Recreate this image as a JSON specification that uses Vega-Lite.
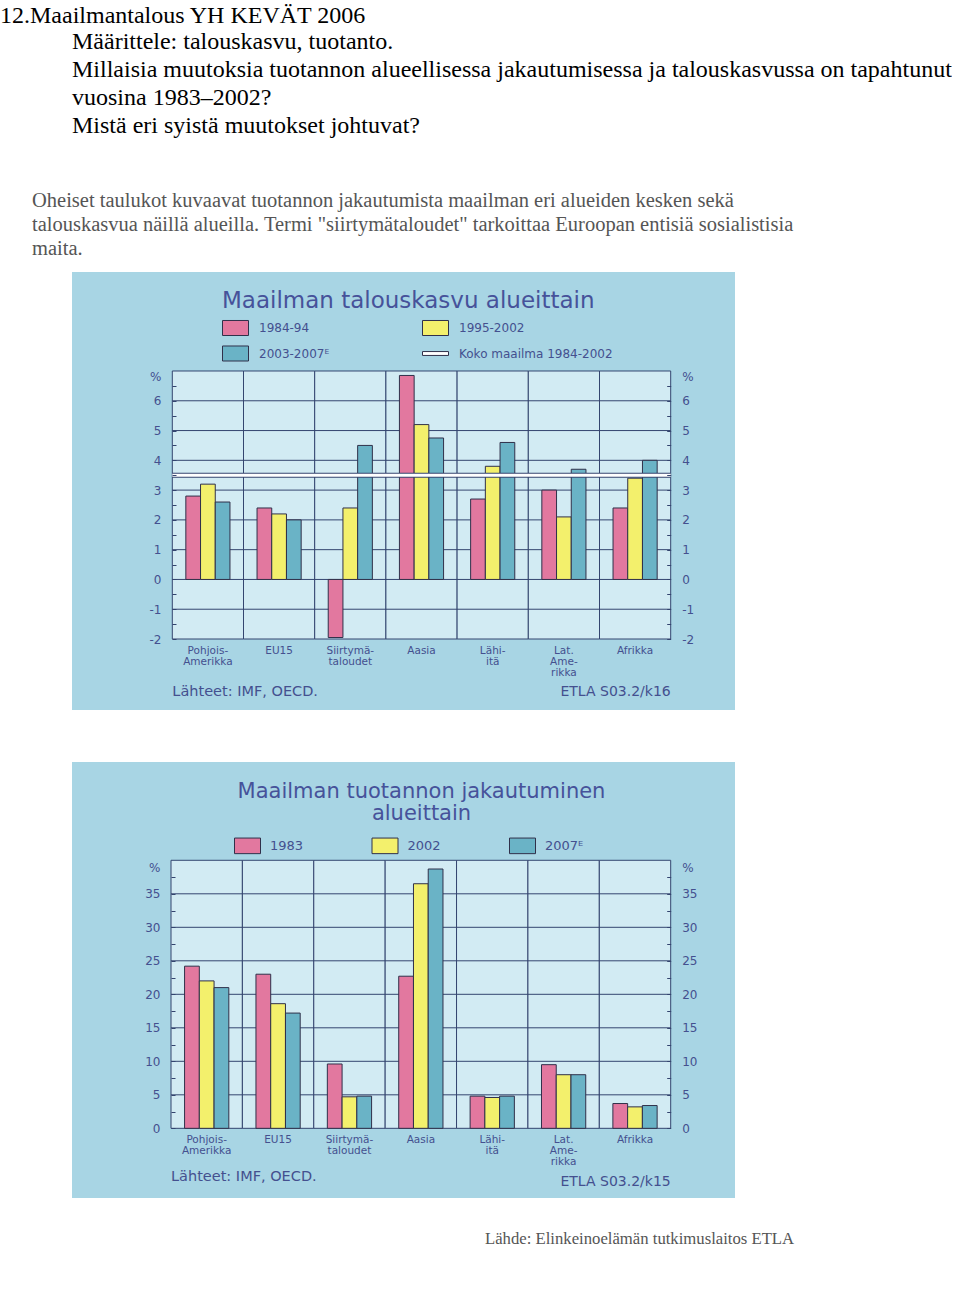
{
  "$schema": "https://vega.github.io/schema/vega-lite/v6.json",
  "background": "white",
  "padding": {"top": 3, "left": 0, "right": 0, "bottom": 0},
  "config": {"view": {"stroke": null}, "font": "DejaVu Sans"},
  "datasets": {
    "growth": [
      {"region": "Pohjois-Amerikka", "period": "1984-94", "value": 2.8},
      {"region": "Pohjois-Amerikka", "period": "1995-2002", "value": 3.2},
      {"region": "Pohjois-Amerikka", "period": "2003-2007ᴱ", "value": 2.6},
      {"region": "EU15", "period": "1984-94", "value": 2.4},
      {"region": "EU15", "period": "1995-2002", "value": 2.2},
      {"region": "EU15", "period": "2003-2007ᴱ", "value": 2.0},
      {"region": "Siirtymätaloudet", "period": "1984-94", "value": -1.95},
      {"region": "Siirtymätaloudet", "period": "1995-2002", "value": 2.4},
      {"region": "Siirtymätaloudet", "period": "2003-2007ᴱ", "value": 4.5},
      {"region": "Aasia", "period": "1984-94", "value": 6.85},
      {"region": "Aasia", "period": "1995-2002", "value": 5.2},
      {"region": "Aasia", "period": "2003-2007ᴱ", "value": 4.75},
      {"region": "Lähi-itä", "period": "1984-94", "value": 2.7},
      {"region": "Lähi-itä", "period": "1995-2002", "value": 3.8},
      {"region": "Lähi-itä", "period": "2003-2007ᴱ", "value": 4.6},
      {"region": "Lat. Amerikka", "period": "1984-94", "value": 3.0},
      {"region": "Lat. Amerikka", "period": "1995-2002", "value": 2.1},
      {"region": "Lat. Amerikka", "period": "2003-2007ᴱ", "value": 3.7},
      {"region": "Afrikka", "period": "1984-94", "value": 2.4},
      {"region": "Afrikka", "period": "1995-2002", "value": 3.4},
      {"region": "Afrikka", "period": "2003-2007ᴱ", "value": 4.0}
    ],
    "world": [{"label": "Koko maailma 1984-2002", "value": 3.5}],
    "share": [
      {"region": "Pohjois-Amerikka", "year": "1983", "value": 24.2},
      {"region": "Pohjois-Amerikka", "year": "2002", "value": 22.0},
      {"region": "Pohjois-Amerikka", "year": "2007ᴱ", "value": 21.0},
      {"region": "EU15", "year": "1983", "value": 23.0},
      {"region": "EU15", "year": "2002", "value": 18.6},
      {"region": "EU15", "year": "2007ᴱ", "value": 17.2},
      {"region": "Siirtymätaloudet", "year": "1983", "value": 9.6},
      {"region": "Siirtymätaloudet", "year": "2002", "value": 4.7},
      {"region": "Siirtymätaloudet", "year": "2007ᴱ", "value": 4.8},
      {"region": "Aasia", "year": "1983", "value": 22.7},
      {"region": "Aasia", "year": "2002", "value": 36.5},
      {"region": "Aasia", "year": "2007ᴱ", "value": 38.7},
      {"region": "Lähi-itä", "year": "1983", "value": 4.8},
      {"region": "Lähi-itä", "year": "2002", "value": 4.6},
      {"region": "Lähi-itä", "year": "2007ᴱ", "value": 4.8},
      {"region": "Lat. Amerikka", "year": "1983", "value": 9.5},
      {"region": "Lat. Amerikka", "year": "2002", "value": 8.0},
      {"region": "Lat. Amerikka", "year": "2007ᴱ", "value": 8.0},
      {"region": "Afrikka", "year": "1983", "value": 3.7},
      {"region": "Afrikka", "year": "2002", "value": 3.2},
      {"region": "Afrikka", "year": "2007ᴱ", "value": 3.4}
    ]
  },
  "title": {"text": "12.Maailmantalous YH KEVÄT 2006", "anchor": "start", "frame": "group", "dx": -72, "offset": 2, "font": "Liberation Serif", "fontSize": 24, "fontWeight": "normal", "color": "#000000"},
  "vconcat": [
    {
      "title": {"text": ["Määrittele: talouskasvu, tuotanto.", "Millaisia muutoksia tuotannon alueellisessa jakautumisessa ja talouskasvussa on tapahtunut", "vuosina 1983–2002?", "Mistä eri syistä muutokset johtuvat?"], "anchor": "start", "frame": "group", "dx": 0, "offset": 53, "font": "Liberation Serif", "fontSize": 24, "lineHeight": 28, "fontWeight": "normal", "color": "#000000"},
      "vconcat": [
        {
          "title": {"text": ["Oheiset taulukot kuvaavat tuotannon jakautumista maailman eri alueiden kesken sekä", "talouskasvua näillä alueilla. Termi \"siirtymätaloudet\" tarkoittaa Euroopan entisiä sosialistisia", "maita."], "anchor": "start", "frame": "group", "dx": -40, "offset": 13, "font": "Liberation Serif", "fontSize": 20.5, "lineHeight": 24, "fontWeight": "normal", "color": "#555555"},
          "vconcat": [
            {
              "title": {"text": "Lähde: Elinkeinoelämän tutkimuslaitos ETLA", "orient": "bottom", "anchor": "start", "frame": "group", "dx": 413, "offset": 33, "font": "Liberation Serif", "fontSize": 16.7, "fontWeight": "normal", "color": "#555555"},
              "spacing": 52,
              "resolve": {"scale": {"x": "independent", "y": "independent", "color": "independent", "xOffset": "independent"}, "axis": {"x": "independent", "y": "independent"}, "legend": {"color": "independent"}},
              "vconcat": [
                {
                  "width": 663,
                  "height": 438,
                  "view": {"fill": "#a8d5e4", "stroke": null},
                  "title": {"text": "Maailman talouskasvu alueittain", "anchor": "start", "frame": "group", "dx": 150, "offset": -41, "font": "DejaVu Sans", "fontSize": 23, "fontWeight": "normal", "color": "#46529a"},
                  "resolve": {"axis": {"y": "independent"}},
                  "layer": [
                    {
                      "data": {"name": "growth"},
                      "transform": [{"aggregate": [{"op": "count", "as": "n"}], "groupby": ["region"]}],
                      "mark": {"type": "rect", "fill": "#d2ebf3", "stroke": "#34456f", "strokeWidth": 1},
                      "encoding": {
                        "x": {"field": "region", "type": "nominal", "sort": null,
                          "scale": {"type": "band", "domain": ["Pohjois-Amerikka", "EU15", "Siirtymätaloudet", "Aasia", "Lähi-itä", "Lat. Amerikka", "Afrikka"], "range": [100.3, 598.7], "paddingInner": 0, "paddingOuter": 0},
                          "axis": null},
                        "y": {"datum": -2, "type": "quantitative",
                          "scale": {"domain": [-4.384, 10.324], "nice": false, "zero": false},
                          "axis": {"orient": "left", "offset": -100, "values": [-2, -1.5, -1, -0.5, 0, 0.5, 1, 1.5, 2, 2.5, 3, 3.5, 4, 4.5, 5, 5.5, 6, 6.5, 6.83], "labelExpr": "datum.value > 6.7 ? '%' : (datum.value % 1 == 0 ? '' + datum.value : '')", "title": null, "domain": false, "grid": false, "ticks": true, "tickSize": -4, "tickColor": "#34456f", "tickOpacity": {"condition": {"test": "datum.value > 6.7", "value": 0}, "value": 1}, "labelFont": "DejaVu Sans", "labelFontSize": 12, "labelColor": "#44508f", "labelPadding": 15, "labelOverlap": false, "labelFlush": false, "labelBound": false, "zindex": 1}},
                        "y2": {"datum": 7}
                      }
                    },
                    {
                      "data": {"values": [{"v": -1}, {"v": 0}, {"v": 1}, {"v": 2}, {"v": 3}, {"v": 4}, {"v": 5}, {"v": 6}]},
                      "mark": {"type": "rule", "stroke": "#34456f", "strokeWidth": 1},
                      "encoding": {
                        "x": {"datum": "Pohjois-Amerikka", "type": "nominal", "bandPosition": 0, "scale": {"type": "band", "domain": ["Pohjois-Amerikka", "EU15", "Siirtymätaloudet", "Aasia", "Lähi-itä", "Lat. Amerikka", "Afrikka"], "range": [100.3, 598.7], "paddingInner": 0, "paddingOuter": 0}, "axis": null},
                        "x2": {"datum": "Afrikka", "bandPosition": 1},
                        "y": {"field": "v", "type": "quantitative", "scale": {"domain": [-4.384, 10.324], "nice": false, "zero": false}, "axis": null}
                      }
                    },
                    {
                      "data": {"name": "growth"},
                      "mark": {"type": "bar", "stroke": "#30304a", "strokeWidth": 1},
                      "encoding": {
                        "x": {"field": "region", "type": "nominal", "sort": null, "scale": {"type": "band", "domain": ["Pohjois-Amerikka", "EU15", "Siirtymätaloudet", "Aasia", "Lähi-itä", "Lat. Amerikka", "Afrikka"], "range": [100.3, 598.7], "paddingInner": 0, "paddingOuter": 0}, "axis": null},
                        "xOffset": {"field": "period", "type": "nominal", "sort": ["1984-94", "1995-2002", "2003-2007ᴱ"], "scale": {"domain": ["1984-94", "1995-2002", "2003-2007ᴱ"], "paddingInner": 0, "paddingOuter": 0.92}},
                        "y": {"field": "value", "type": "quantitative", "scale": {"domain": [-4.384, 10.324], "nice": false, "zero": false}, "axis": null},
                        "y2": {"datum": 0},
                        "color": {"field": "period", "type": "nominal",
                          "scale": {"domain": ["1984-94", "1995-2002", "2003-2007ᴱ", "Koko maailma 1984-2002"], "range": ["#e2789f", "#f3f06c", "#6ab3c6", "#ffffff"]},
                          "legend": {"title": null, "orient": "none", "legendX": 150, "legendY": 42, "direction": "horizontal", "columns": 2, "columnPadding": 90, "rowPadding": 2, "padding": 0, "symbolSize": 676, "symbolType": "M-1,-0.577H1V0.577H-1Z", "symbolStrokeColor": "#30304a", "symbolStrokeWidth": 1, "symbolOpacity": 1, "labelFont": "DejaVu Sans", "labelFontSize": 12, "labelColor": "#44508f", "labelOffset": 10,
                            "encode": {"symbols": {"update": {"shape": {"signal": "datum.value === 'Koko maailma 1984-2002' ? 'M-1,-0.15H1V0.15H-1Z' : 'M-1,-0.577H1V0.577H-1Z'"}}}}}}
                      }
                    },
                    {
                      "data": {"name": "world"},
                      "mark": {"type": "rule", "stroke": "#34456f", "strokeWidth": 5},
                      "encoding": {
                        "x": {"datum": "Pohjois-Amerikka", "type": "nominal", "bandPosition": 0, "scale": {"type": "band", "domain": ["Pohjois-Amerikka", "EU15", "Siirtymätaloudet", "Aasia", "Lähi-itä", "Lat. Amerikka", "Afrikka"], "range": [100.3, 598.7], "paddingInner": 0, "paddingOuter": 0}, "axis": null},
                        "x2": {"datum": "Afrikka", "bandPosition": 1},
                        "y": {"field": "value", "type": "quantitative", "scale": {"domain": [-4.384, 10.324], "nice": false, "zero": false}, "axis": null}
                      }
                    },
                    {
                      "data": {"name": "world"},
                      "mark": {"type": "rule", "stroke": "#ffffff", "strokeWidth": 3},
                      "encoding": {
                        "x": {"datum": "Pohjois-Amerikka", "type": "nominal", "bandPosition": 0, "scale": {"type": "band", "domain": ["Pohjois-Amerikka", "EU15", "Siirtymätaloudet", "Aasia", "Lähi-itä", "Lat. Amerikka", "Afrikka"], "range": [100.3, 598.7], "paddingInner": 0, "paddingOuter": 0}, "axis": null},
                        "x2": {"datum": "Afrikka", "bandPosition": 1},
                        "y": {"field": "value", "type": "quantitative", "scale": {"domain": [-4.384, 10.324], "nice": false, "zero": false}, "axis": null}
                      }
                    },
                    {
                      "data": {"name": "growth"},
                      "transform": [{"aggregate": [{"op": "count", "as": "n"}], "groupby": ["region"]}],
                      "mark": {"type": "text", "align": "center", "baseline": "top", "font": "DejaVu Sans", "fontSize": 10.5, "lineHeight": 11, "color": "#44508f"},
                      "encoding": {
                        "x": {"field": "region", "type": "nominal", "sort": null, "scale": {"type": "band", "domain": ["Pohjois-Amerikka", "EU15", "Siirtymätaloudet", "Aasia", "Lähi-itä", "Lat. Amerikka", "Afrikka"], "range": [100.3, 598.7], "paddingInner": 0, "paddingOuter": 0}, "axis": null},
                        "y": {"datum": -2.22, "type": "quantitative", "scale": {"domain": [-4.384, 10.324], "nice": false, "zero": false}, "axis": null},
                        "text": {"condition": [
                          {"test": "datum.region == 'Pohjois-Amerikka'", "value": ["Pohjois-", "Amerikka"]},
                          {"test": "datum.region == 'Siirtymätaloudet'", "value": ["Siirtymä-", "taloudet"]},
                          {"test": "datum.region == 'Lähi-itä'", "value": ["Lähi-", "itä"]},
                          {"test": "datum.region == 'Lat. Amerikka'", "value": ["Lat.", "Ame-", "rikka"]}
                        ], "field": "region", "type": "nominal"}
                      }
                    },
                    {
                      "data": {"values": [{"t": "Lähteet:  IMF, OECD."}]},
                      "mark": {"type": "text", "align": "left", "baseline": "middle", "font": "DejaVu Sans", "fontSize": 14.5, "color": "#44508f"},
                      "encoding": {
                        "text": {"field": "t"},
                        "x": {"datum": "Pohjois-Amerikka", "type": "nominal", "bandPosition": 0, "scale": {"type": "band", "domain": ["Pohjois-Amerikka", "EU15", "Siirtymätaloudet", "Aasia", "Lähi-itä", "Lat. Amerikka", "Afrikka"], "range": [100.3, 598.7], "paddingInner": 0, "paddingOuter": 0}, "axis": null},
                        "y": {"datum": -3.78, "type": "quantitative", "scale": {"domain": [-4.384, 10.324], "nice": false, "zero": false}, "axis": null}
                      }
                    },
                    {
                      "data": {"values": [{"t": "ETLA S03.2/k16"}]},
                      "mark": {"type": "text", "align": "right", "baseline": "middle", "font": "DejaVu Sans", "fontSize": 14, "color": "#44508f"},
                      "encoding": {
                        "text": {"field": "t"},
                        "x": {"datum": "Afrikka", "type": "nominal", "bandPosition": 1, "scale": {"type": "band", "domain": ["Pohjois-Amerikka", "EU15", "Siirtymätaloudet", "Aasia", "Lähi-itä", "Lat. Amerikka", "Afrikka"], "range": [100.3, 598.7], "paddingInner": 0, "paddingOuter": 0}, "axis": null},
                        "y": {"datum": -3.78, "type": "quantitative",
                          "scale": {"domain": [-4.384, 10.324], "nice": false, "zero": false},
                          "axis": {"orient": "right", "offset": -64.3, "values": [-2, -1.5, -1, -0.5, 0, 0.5, 1, 1.5, 2, 2.5, 3, 3.5, 4, 4.5, 5, 5.5, 6, 6.5, 6.83], "labelExpr": "datum.value > 6.7 ? '%' : (datum.value % 1 == 0 ? '' + datum.value : '')", "title": null, "domain": false, "grid": false, "ticks": true, "tickSize": -4, "tickColor": "#34456f", "tickOpacity": {"condition": {"test": "datum.value > 6.7", "value": 0}, "value": 1}, "labelFont": "DejaVu Sans", "labelFontSize": 12, "labelColor": "#44508f", "labelPadding": 15, "labelOverlap": false, "labelFlush": false, "labelBound": false, "zindex": 1}}
                      }
                    }
                  ]
                },
                {
                  "width": 663,
                  "height": 436,
                  "view": {"fill": "#a8d5e4", "stroke": null},
                  "title": {"text": ["Maailman tuotannon jakautuminen", "alueittain"], "anchor": "middle", "frame": "group", "dx": 18, "offset": -62, "lineHeight": 22.5, "font": "DejaVu Sans", "fontSize": 21, "fontWeight": "normal", "color": "#46529a"},
                  "resolve": {"axis": {"y": "independent"}},
                  "layer": [
                    {
                      "data": {"name": "share"},
                      "transform": [{"aggregate": [{"op": "count", "as": "n"}], "groupby": ["region"]}],
                      "mark": {"type": "rect", "fill": "#d2ebf3", "stroke": "#34456f", "strokeWidth": 1},
                      "encoding": {
                        "x": {"field": "region", "type": "nominal", "sort": null,
                          "scale": {"type": "band", "domain": ["Pohjois-Amerikka", "EU15", "Siirtymätaloudet", "Aasia", "Lähi-itä", "Lat. Amerikka", "Afrikka"], "range": [99, 598.7], "paddingInner": 0, "paddingOuter": 0},
                          "axis": null},
                        "y": {"datum": 0, "type": "quantitative",
                          "scale": {"domain": [-10.4, 54.67], "nice": false, "zero": false},
                          "axis": {"orient": "left", "offset": -99, "values": [0, 2.5, 5, 7.5, 10, 12.5, 15, 17.5, 20, 22.5, 25, 27.5, 30, 32.5, 35, 37.5, 38.9], "labelExpr": "datum.value > 38 ? '%' : (datum.value % 5 == 0 ? '' + datum.value : '')", "title": null, "domain": false, "grid": false, "ticks": true, "tickSize": -4, "tickColor": "#34456f", "tickOpacity": {"condition": {"test": "datum.value > 38", "value": 0}, "value": 1}, "labelFont": "DejaVu Sans", "labelFontSize": 12, "labelColor": "#44508f", "labelPadding": 15, "labelOverlap": false, "labelFlush": false, "labelBound": false, "zindex": 1}},
                        "y2": {"datum": 40}
                      }
                    },
                    {
                      "data": {"values": [{"v": 5}, {"v": 10}, {"v": 15}, {"v": 20}, {"v": 25}, {"v": 30}, {"v": 35}]},
                      "mark": {"type": "rule", "stroke": "#34456f", "strokeWidth": 1},
                      "encoding": {
                        "x": {"datum": "Pohjois-Amerikka", "type": "nominal", "bandPosition": 0, "scale": {"type": "band", "domain": ["Pohjois-Amerikka", "EU15", "Siirtymätaloudet", "Aasia", "Lähi-itä", "Lat. Amerikka", "Afrikka"], "range": [99, 598.7], "paddingInner": 0, "paddingOuter": 0}, "axis": null},
                        "x2": {"datum": "Afrikka", "bandPosition": 1},
                        "y": {"field": "v", "type": "quantitative", "scale": {"domain": [-10.4, 54.67], "nice": false, "zero": false}, "axis": null}
                      }
                    },
                    {
                      "data": {"name": "share"},
                      "mark": {"type": "bar", "stroke": "#30304a", "strokeWidth": 1},
                      "encoding": {
                        "x": {"field": "region", "type": "nominal", "sort": null, "scale": {"type": "band", "domain": ["Pohjois-Amerikka", "EU15", "Siirtymätaloudet", "Aasia", "Lähi-itä", "Lat. Amerikka", "Afrikka"], "range": [99, 598.7], "paddingInner": 0, "paddingOuter": 0}, "axis": null},
                        "xOffset": {"field": "year", "type": "nominal", "sort": ["1983", "2002", "2007ᴱ"], "scale": {"domain": ["1983", "2002", "2007ᴱ"], "paddingInner": 0, "paddingOuter": 0.92}},
                        "y": {"field": "value", "type": "quantitative", "scale": {"domain": [-10.4, 54.67], "nice": false, "zero": false}, "axis": null},
                        "y2": {"datum": 0},
                        "color": {"field": "year", "type": "nominal",
                          "scale": {"domain": ["1983", "2002", "2007ᴱ"], "range": ["#e2789f", "#f3f06c", "#6ab3c6"]},
                          "legend": {"title": null, "orient": "none", "legendX": 162, "legendY": 70, "direction": "horizontal", "columns": 3, "columnPadding": 65.5, "rowPadding": 0, "padding": 0, "symbolSize": 676, "symbolType": "M-1,-0.6H1V0.6H-1Z", "symbolStrokeColor": "#30304a", "symbolStrokeWidth": 1, "symbolOpacity": 1, "labelFont": "DejaVu Sans", "labelFontSize": 13, "labelColor": "#44508f", "labelOffset": 9}}
                      }
                    },
                    {
                      "data": {"name": "share"},
                      "transform": [{"aggregate": [{"op": "count", "as": "n"}], "groupby": ["region"]}],
                      "mark": {"type": "text", "align": "center", "baseline": "top", "font": "DejaVu Sans", "fontSize": 10.5, "lineHeight": 11, "color": "#44508f"},
                      "encoding": {
                        "x": {"field": "region", "type": "nominal", "sort": null, "scale": {"type": "band", "domain": ["Pohjois-Amerikka", "EU15", "Siirtymätaloudet", "Aasia", "Lähi-itä", "Lat. Amerikka", "Afrikka"], "range": [99, 598.7], "paddingInner": 0, "paddingOuter": 0}, "axis": null},
                        "y": {"datum": -0.95, "type": "quantitative", "scale": {"domain": [-10.4, 54.67], "nice": false, "zero": false}, "axis": null},
                        "text": {"condition": [
                          {"test": "datum.region == 'Pohjois-Amerikka'", "value": ["Pohjois-", "Amerikka"]},
                          {"test": "datum.region == 'Siirtymätaloudet'", "value": ["Siirtymä-", "taloudet"]},
                          {"test": "datum.region == 'Lähi-itä'", "value": ["Lähi-", "itä"]},
                          {"test": "datum.region == 'Lat. Amerikka'", "value": ["Lat.", "Ame-", "rikka"]}
                        ], "field": "region", "type": "nominal"}
                      }
                    },
                    {
                      "data": {"values": [{"t": "Lähteet:  IMF, OECD."}]},
                      "mark": {"type": "text", "align": "left", "baseline": "middle", "font": "DejaVu Sans", "fontSize": 14.5, "color": "#44508f"},
                      "encoding": {
                        "text": {"field": "t"},
                        "x": {"datum": "Pohjois-Amerikka", "type": "nominal", "bandPosition": 0, "scale": {"type": "band", "domain": ["Pohjois-Amerikka", "EU15", "Siirtymätaloudet", "Aasia", "Lähi-itä", "Lat. Amerikka", "Afrikka"], "range": [99, 598.7], "paddingInner": 0, "paddingOuter": 0}, "axis": null},
                        "y": {"datum": -7.25, "type": "quantitative", "scale": {"domain": [-10.4, 54.67], "nice": false, "zero": false}, "axis": null}
                      }
                    },
                    {
                      "data": {"values": [{"t": "ETLA S03.2/k15"}]},
                      "mark": {"type": "text", "align": "right", "baseline": "middle", "font": "DejaVu Sans", "fontSize": 14, "color": "#44508f"},
                      "encoding": {
                        "text": {"field": "t"},
                        "x": {"datum": "Afrikka", "type": "nominal", "bandPosition": 1, "scale": {"type": "band", "domain": ["Pohjois-Amerikka", "EU15", "Siirtymätaloudet", "Aasia", "Lähi-itä", "Lat. Amerikka", "Afrikka"], "range": [99, 598.7], "paddingInner": 0, "paddingOuter": 0}, "axis": null},
                        "y": {"datum": -8.0, "type": "quantitative",
                          "scale": {"domain": [-10.4, 54.67], "nice": false, "zero": false},
                          "axis": {"orient": "right", "offset": -64.3, "values": [0, 2.5, 5, 7.5, 10, 12.5, 15, 17.5, 20, 22.5, 25, 27.5, 30, 32.5, 35, 37.5, 38.9], "labelExpr": "datum.value > 38 ? '%' : (datum.value % 5 == 0 ? '' + datum.value : '')", "title": null, "domain": false, "grid": false, "ticks": true, "tickSize": -4, "tickColor": "#34456f", "tickOpacity": {"condition": {"test": "datum.value > 38", "value": 0}, "value": 1}, "labelFont": "DejaVu Sans", "labelFontSize": 12, "labelColor": "#44508f", "labelPadding": 15, "labelOverlap": false, "labelFlush": false, "labelBound": false, "zindex": 1}}
                      }
                    }
                  ]
                }
              ]
            }
          ]
        }
      ]
    }
  ]
}
